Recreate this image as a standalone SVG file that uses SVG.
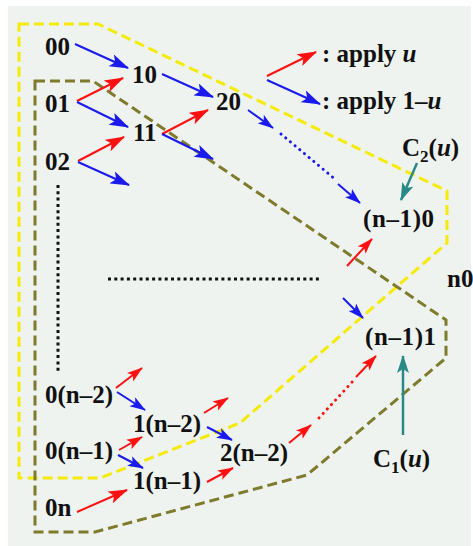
<svg xmlns="http://www.w3.org/2000/svg" width="473" height="546" viewBox="0 0 473 546">
<defs>
<style>
.lbl{font-family:"Liberation Serif","Times New Roman",serif;font-size:25px;font-weight:bold;fill:#111}
.it{font-style:italic}
.r{stroke:#ff1010;stroke-width:2;fill:none}
.b{stroke:#1a1aee;stroke-width:2;fill:none}
.t{stroke:#2a8a88;stroke-width:2.5;fill:none}
.rd{stroke:#ff1010;stroke-width:3;fill:none;stroke-dasharray:0.1 6;stroke-linecap:round}
.bd{stroke:#1a1aee;stroke-width:3;fill:none;stroke-dasharray:0.1 6;stroke-linecap:round}
.kd{stroke:#111;stroke-width:3;fill:none;stroke-dasharray:3 3.3}
.yel{stroke:#f6ea08;stroke-width:3;fill:none;stroke-dasharray:10 5}
.olv{stroke:#7f7a2c;stroke-width:3;fill:none;stroke-dasharray:10 5}
</style>
<marker id="hr" viewBox="0 0 18 12" refX="17" refY="6" markerWidth="20" markerHeight="13" markerUnits="userSpaceOnUse" orient="auto"><path d="M0,0 L18,6 L0,12 L4,6 z" fill="#ff1010"/></marker>
<marker id="hb" viewBox="0 0 18 12" refX="17" refY="6" markerWidth="20" markerHeight="13" markerUnits="userSpaceOnUse" orient="auto"><path d="M0,0 L18,6 L0,12 L4,6 z" fill="#1a1aee"/></marker>
<marker id="hrs" viewBox="0 0 18 12" refX="17" refY="6" markerWidth="16" markerHeight="11" markerUnits="userSpaceOnUse" orient="auto"><path d="M0,0 L18,6 L0,12 L4,6 z" fill="#ff1010"/></marker>
<marker id="hbs" viewBox="0 0 18 12" refX="17" refY="6" markerWidth="16" markerHeight="11" markerUnits="userSpaceOnUse" orient="auto"><path d="M0,0 L18,6 L0,12 L4,6 z" fill="#1a1aee"/></marker>
<marker id="ht" viewBox="0 0 18 12" refX="17" refY="6" markerWidth="18" markerHeight="13" markerUnits="userSpaceOnUse" orient="auto"><path d="M0,0 L18,6 L0,12 L4,6 z" fill="#2a8a88"/></marker>
</defs>
<rect x="0" y="0" width="473" height="546" fill="#ffffff"/>
<rect x="8" y="6" width="463" height="540" fill="#eef3ef"/>

<g id="regions">
<polygon class="yel" points="19,24 98,24 447,191 447,243 240,423 100,478 19,478"/>
<polygon class="olv" points="35,81 93,81 446,320 446,358 307,475 240,493 95,532 35,532"/>
</g>

<g id="connectors">
<!-- legend -->
<path class="r" d="M267,76 L316,52" marker-end="url(#hr)"/>
<path class="b" d="M267,80 L320,104" marker-end="url(#hb)"/>
<!-- top -->
<path class="b" d="M75,44 L128,68" marker-end="url(#hb)"/>
<path class="r" d="M77,101 L123,78" marker-end="url(#hr)"/>
<path class="b" d="M77,102 L128,127" marker-end="url(#hb)"/>
<path class="b" d="M162,74 L213,97" marker-end="url(#hb)"/>
<path class="r" d="M162,134 L208,110" marker-end="url(#hr)"/>
<path class="b" d="M162,134 L213,159" marker-end="url(#hb)"/>
<path class="r" d="M78,161 L124,137" marker-end="url(#hr)"/>
<path class="b" d="M78,162 L129,185" marker-end="url(#hb)"/>
<path class="b" d="M248,110 L273,128" marker-end="url(#hbs)"/>
<path class="bd" d="M281,134 L336,180"/>
<path class="b" d="M338,184 L360,203" marker-end="url(#hbs)"/>
<path class="r" d="M347,266 L372,239" marker-end="url(#hrs)"/>
<path class="b" d="M343,298 L363,318" marker-end="url(#hbs)"/>
<!-- bottom -->
<path class="r" d="M116,388 L142,368" marker-end="url(#hrs)"/>
<path class="b" d="M117,392 L145,410" marker-end="url(#hbs)"/>
<path class="r" d="M204,413 L228,398" marker-end="url(#hrs)"/>
<path class="b" d="M207,427 L232,440" marker-end="url(#hbs)"/>
<path class="r" d="M119,450 L142,437" marker-end="url(#hrs)"/>
<path class="b" d="M118,455 L143,468" marker-end="url(#hbs)"/>
<path class="r" d="M207,482 L233,468" marker-end="url(#hrs)"/>
<path class="r" d="M77,512 L127,490" marker-end="url(#hr)"/>
<path class="r" d="M289,443 L311,425" marker-end="url(#hrs)"/>
<path class="rd" d="M319,418 L354,380"/>
<path class="r" d="M356,377 L376,356" marker-end="url(#hrs)"/>
<!-- teal -->
<path class="t" d="M417,163 L401,200" marker-end="url(#ht)"/>
<path class="t" d="M403,435 L403,356" marker-end="url(#ht)"/>
<!-- ellipsis dots -->
<path class="kd" d="M58,185 L58,374"/>
<path class="kd" d="M108,279 L321,279"/>
</g>

<g id="n00"><text class="lbl" x="45" y="55">00</text></g>
<g id="n01"><text class="lbl" x="45" y="112">01</text></g>
<g id="n02"><text class="lbl" x="45" y="170">02</text></g>
<g id="n10"><text class="lbl" x="132" y="83">10</text></g>
<g id="n11"><text class="lbl" x="133" y="141">11</text></g>
<g id="n20"><text class="lbl" x="216" y="110">20</text></g>
<g id="nn10"><text class="lbl" x="363" y="227" letter-spacing="0.6">(n–1)0</text></g>
<g id="nn11"><text class="lbl" x="365" y="345" letter-spacing="0.6">(n–1)1</text></g>
<g id="nn0"><text class="lbl" x="447" y="287">n0</text></g>
<g id="n0n2"><text class="lbl" x="45" y="403">0(n–2)</text></g>
<g id="n1n2"><text class="lbl" x="133" y="432">1(n–2)</text></g>
<g id="n0n1"><text class="lbl" x="45" y="459">0(n–1)</text></g>
<g id="n2n2"><text class="lbl" x="220" y="461">2(n–2)</text></g>
<g id="n1n1"><text class="lbl" x="133" y="489">1(n–1)</text></g>
<g id="n0n"><text class="lbl" x="45" y="516">0n</text></g>
<g id="legend-u"><text class="lbl" x="322" y="62">: apply <tspan class="it">u</tspan></text></g>
<g id="legend-1u"><text class="lbl" x="322" y="109">: apply 1–<tspan class="it">u</tspan></text></g>
<g id="c2"><text class="lbl" x="402" y="156">C<tspan font-size="17" dy="6">2</tspan><tspan dy="-6">(</tspan><tspan class="it">u</tspan>)</text></g>
<g id="c1"><text class="lbl" x="373" y="467">C<tspan font-size="17" dy="6">1</tspan><tspan dy="-6">(</tspan><tspan class="it">u</tspan>)</text></g>
</svg>
